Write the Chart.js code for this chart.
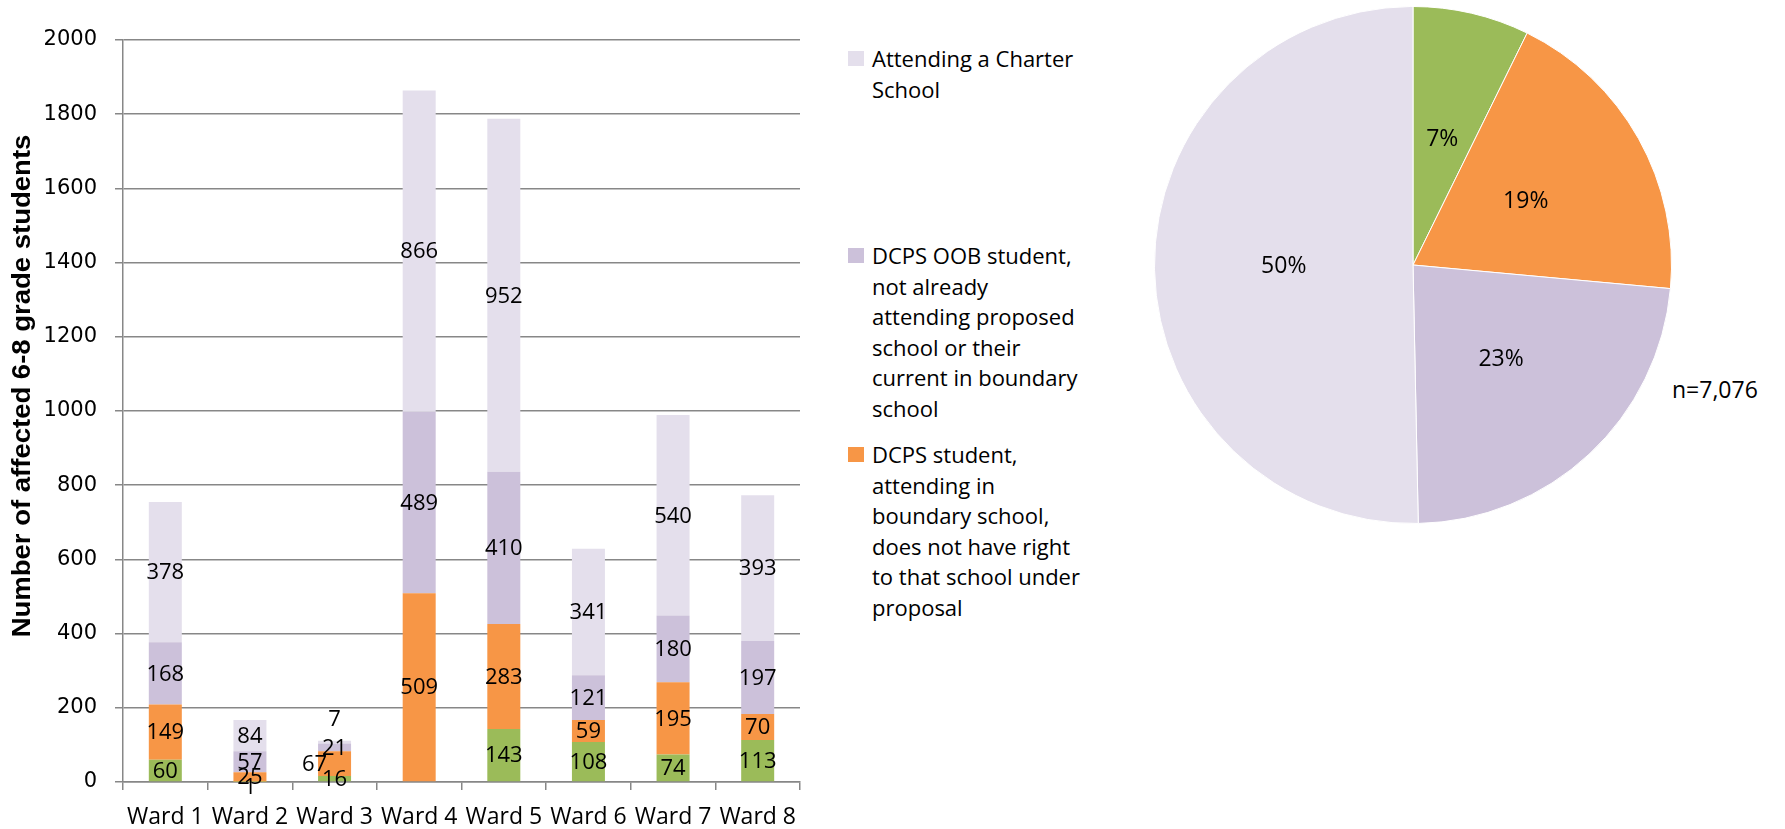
<!DOCTYPE html>
<html>
<head>
<meta charset="utf-8">
<script src="https://cdn.jsdelivr.net/npm/chart.js@4.4.1/dist/chart.umd.min.js"></script>
<style>
body{margin:0;background:#fff;width:1785px;height:829px;overflow:hidden;position:relative;font-family:"Open Sans",sans-serif;color:#000}
#barBox{position:absolute;left:0;top:0;width:812px;height:829px}
#pieBox{position:absolute;left:1154px;top:6px;width:518px;height:518px}
.leg{position:absolute;left:848px;font-size:22px;line-height:30.5px}
.leg i{position:absolute;left:0;top:8px;width:16px;height:15px}
.leg span{display:block;margin-left:24px;width:214px}
#nLabel{position:absolute;left:1672px;top:373px;font-size:23px;white-space:nowrap}
</style>
</head>
<body>
<div id="barBox"><canvas id="barChart"></canvas></div>
<div id="legend"></div>
<div id="pieBox"><canvas id="pieChart"></canvas></div>
<div id="nLabel"></div>

<script>
const WARDS=['Ward 1','Ward 2','Ward 3','Ward 4','Ward 5','Ward 6','Ward 7','Ward 8'];
// stacked bottom to top
const GREEN=[60,1,16,0,143,108,74,113];
const ORANGE=[149,25,67,509,283,59,195,70];
const OOB=[168,57,21,489,410,121,180,197];
const CHARTER=[378,84,7,866,952,341,540,393];
const SERIES_NAMES=['',
  'DCPS student, attending in boundary school, does not have right to that school under proposal',
  'DCPS OOB student, not already attending proposed school or their current in boundary school',
  'Attending a Charter School'];
const COLORS=['#9BBB59','#F79646','#CCC1DA','#E4DFEC'];
const Y_MIN=0, Y_MAX=2000, Y_STEP=200;
const PIE_VALUES=[515,1357,1643,3561];
const N_TOTAL='n=7,076';
const Y_TITLE='Number of affected 6-8 grade students';

// labels Excel pushed off centre
const labelNudge={'0,1':[0,5],'1,2':[-20,0],'3,2':[0,-23]};

const barLabels={id:'barLabels',afterDatasetsDraw(chart){
  const ctx=chart.ctx;
  ctx.save();
  ctx.font='22px "Open Sans"';ctx.fillStyle='#000';ctx.textAlign='center';ctx.textBaseline='middle';
  chart.data.datasets.forEach((ds,di)=>{
    chart.getDatasetMeta(di).data.forEach((bar,i)=>{
      const v=ds.data[i]; if(!v) return;
      const n=labelNudge[di+','+i]||[0,0];
      ctx.fillText(v,bar.x+n[0],(bar.y+bar.base)/2+n[1]+1);
    });
  });
  ctx.restore();
}};
const yTitle={id:'yTitle',afterDraw(chart){
  const ctx=chart.ctx;
  ctx.save();
  ctx.translate(23,386);ctx.rotate(-Math.PI/2);ctx.scale(1.1,1);
  ctx.font='bold 25px "Liberation Sans", Arial';ctx.fillStyle='#000';ctx.textAlign='center';ctx.textBaseline='middle';
  ctx.fillText(Y_TITLE,0,0);
  ctx.restore();
}};

new Chart(document.getElementById('barChart'),{type:'bar',
  data:{labels:WARDS,datasets:[GREEN,ORANGE,OOB,CHARTER].map((d,i)=>({label:SERIES_NAMES[i],data:d,backgroundColor:COLORS[i],barPercentage:0.39,categoryPercentage:1}))},
  options:{responsive:true,maintainAspectRatio:false,animation:false,
    layout:{padding:{left:0,top:40,right:12,bottom:0}},
    plugins:{legend:{display:false}},
    scales:{
      x:{stacked:true,
        grid:{drawOnChartArea:false,drawTicks:true,tickLength:8,color:'#878787',lineWidth:1.5},
        border:{color:'#878787',width:1.5},
        ticks:{font:{family:'Open Sans',size:23},color:'#000',padding:14,maxRotation:0},
        afterFit(s){s.height=47;}},
      y:{stacked:true,min:Y_MIN,max:Y_MAX,
        grid:{color:'#878787',lineWidth:1.5,tickLength:8},
        border:{color:'#878787',width:1.5},
        ticks:{stepSize:Y_STEP,font:{family:'DejaVu Sans',size:21},color:'#000',padding:18,callback:v=>String(v)},
        afterFit(s){s.width=123;}}
    }},
  plugins:[barLabels,yTitle]
});

const pieTotal=PIE_VALUES.reduce((a,b)=>a+b,0);
const pieLabels={id:'pieLabels',afterDatasetsDraw(chart){
  const ctx=chart.ctx;
  ctx.save();
  ctx.font='23px "Open Sans"';ctx.fillStyle='#000';ctx.textAlign='center';ctx.textBaseline='middle';
  chart.getDatasetMeta(0).data.forEach((arc,i)=>{
    const p=arc.tooltipPosition();
    ctx.fillText(Math.round(PIE_VALUES[i]/pieTotal*100)+'%',p.x,p.y);
  });
  ctx.restore();
}};
new Chart(document.getElementById('pieChart'),{type:'pie',
  data:{labels:SERIES_NAMES,datasets:[{data:PIE_VALUES,backgroundColor:COLORS,borderWidth:1,borderColor:'#fff'}]},
  options:{responsive:true,maintainAspectRatio:false,animation:false,layout:{padding:0},plugins:{legend:{display:false}}},
  plugins:[pieLabels]
});

document.getElementById('nLabel').textContent=N_TOTAL;

// legend: charter, OOB, DCPS in boundary (green not listed)
const LEGEND_TOPS=[43,240,439];
document.getElementById('legend').innerHTML=[3,2,1].map((si,k)=>
  `<div class="leg" style="top:${LEGEND_TOPS[k]}px"><i style="background:${COLORS[si]}"></i><span>${SERIES_NAMES[si]}</span></div>`).join('');
</script>
</body>
</html>
